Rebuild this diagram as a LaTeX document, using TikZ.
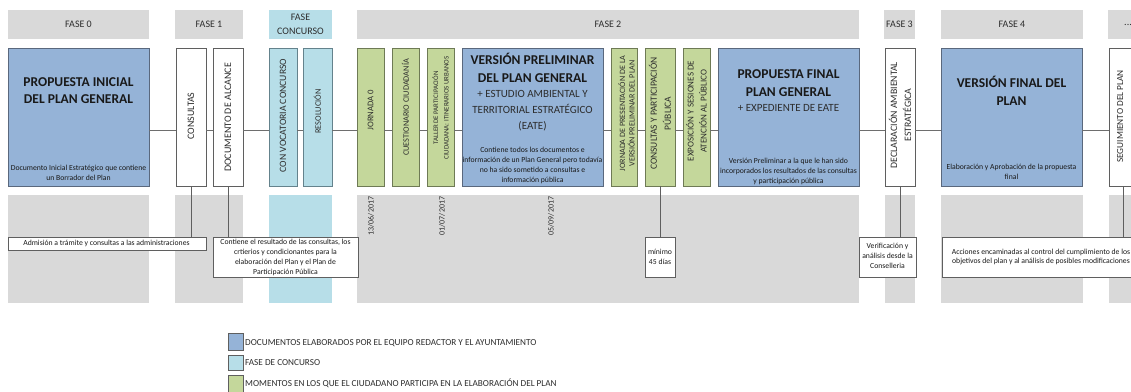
\documentclass[tikz,border=0pt]{standalone}
\usepackage{fontspec}
\setmainfont{Carlito}
\newcommand{\fsz}[2]{\fontsize{#1}{#2}\selectfont}
\definecolor{hgray}{RGB}{217,217,217}
\definecolor{docblue}{RGB}{149,179,215}
\definecolor{docline}{RGB}{90,104,125}
\definecolor{concblue}{RGB}{183,222,232}
\definecolor{concline}{RGB}{100,130,140}
\definecolor{citgreen}{RGB}{196,215,155}
\definecolor{citline}{RGB}{110,122,85}
\definecolor{wline}{RGB}{95,95,95}
\definecolor{connc}{RGB}{110,110,110}
\definecolor{txt}{RGB}{25,25,25}
\definecolor{subtxt}{RGB}{45,45,45}
\newcommand{\bx}[6]{\node[#1, minimum width={#4-#2}, minimum height={#5-#3}] (#6) at (#2,#3) {};}
\begin{document}
\begin{tikzpicture}[x=1pt,y=-1pt,
  rect/.style={inner sep=0pt, outer sep=0pt, anchor=north west},
  hdr/.style={rect, fill=hgray, text=subtxt, font=\fsz{10}{14}, align=center},
  col/.style={rect, fill=hgray},
  ccol/.style={rect, fill=concblue},
  docbox/.style={rect, fill=docblue, draw=docline, line width=0.8pt},
  wbox/.style={rect, fill=white, draw=wline, line width=0.8pt},
  gbox/.style={rect, fill=citgreen, draw=citline, line width=0.8pt},
  cbox/.style={rect, fill=concblue, draw=concline, line width=0.8pt},
  note/.style={rect, fill=white, draw=wline, line width=0.8pt},
  conn/.style={draw=connc, line width=0.8pt},
  vconn/.style={draw=wline, line width=0.8pt},
  ttl/.style={inner sep=0pt, align=center, text=txt, font=\bfseries\fsz{13.5}{17.5}},
  sub/.style={inner sep=0pt, align=center, text=subtxt, font=\fsz{11}{16}},
  small/.style={inner sep=0pt, align=center, text=txt, font=\fsz{7.7}{9.8}},
  vlab/.style={inner sep=0pt, align=center, text=subtxt, rotate=90},
  date/.style={inner sep=0pt, text=subtxt, rotate=90, font=\fsz{8}{9}},
  leg/.style={rect, draw=wline, line width=0.6pt},
  legtxt/.style={inner sep=0pt, anchor=west, text=subtxt, font=\fsz{9.2}{10}}
]
\useasboundingbox (0,0) rectangle (1131,391);
\fill[white] (0,0) rectangle (1131,391);

% header row
\node[hdr, minimum width=141, minimum height=29] (h0) at (8,10) {FASE 0};
\node[hdr, minimum width=68, minimum height=29] (h1) at (175,10) {FASE 1};
\node[hdr, fill=concblue, minimum width=63, minimum height=29] (hc) at (269,10) {FASE\\CONCURSO};
\node[hdr, minimum width=502, minimum height=29] (h2) at (357,10) {FASE 2};
\node[hdr, minimum width=31, minimum height=29] (h3) at (884,10) {FASE 3};
\node[hdr, minimum width=142, minimum height=29] (h4) at (941,10) {FASE 4};
\node[hdr, minimum width=40, minimum height=29, text width=18pt] (h5) at (1108,10) {...};

% bottom columns
\bx{col}{8}{195}{149}{303}{c0}
\bx{col}{175}{195}{243}{303}{c1}
\bx{ccol}{269}{195}{332}{303}{cc}
\bx{col}{357}{195}{859}{303}{c2}
\bx{col}{885}{195}{915}{303}{c3}
\bx{col}{941}{195}{1083}{303}{c4}
\bx{col}{1109}{195}{1145}{303}{c5}

% main boxes and horizontal connectors
\coordinate (lineref) at (0,130);
\bx{docbox}{8}{48}{149}{186}{p0}
\bx{wbox}{176}{48}{206}{186}{cons}
\bx{wbox}{213}{48}{243}{186}{doca}
\bx{cbox}{269}{48}{297}{186}{conv}
\bx{cbox}{303}{48}{332}{186}{reso}
\bx{gbox}{357}{48}{384}{186}{jor0}
\bx{gbox}{392}{48}{419}{186}{cues}
\bx{gbox}{427}{48}{454}{186}{tall}
\bx{docbox}{462}{48}{603}{186}{vprel}
\bx{gbox}{611}{48}{637}{186}{jpres}
\bx{gbox}{645}{48}{675}{186}{cpart}
\bx{gbox}{683}{48}{710}{186}{expo}
\bx{docbox}{718}{48}{859}{186}{pfin}
\bx{wbox}{885}{48}{915}{186}{decl}
\bx{docbox}{941}{48}{1082}{186}{vfin}
\bx{wbox}{1109}{48}{1138}{186}{segu}
\foreach \a/\b in {p0/cons, cons/doca, doca/conv, conv/reso, reso/jor0, jor0/cues, cues/tall, tall/vprel, vprel/jpres, jpres/cpart, cpart/expo, expo/pfin, pfin/decl, decl/vfin, vfin/segu}
  \draw[conn] (\a.east |- lineref) -- (\b.west |- lineref);

% notes
\bx{note}{8}{237}{206}{250}{n1}
\bx{note}{213}{237}{358}{277}{n2}
\bx{note}{645}{237}{675}{277}{n3}
\bx{note}{859}{237}{916}{277}{n4}
\bx{note}{942}{237}{1145}{277}{n5}
\draw[vconn] (cons.south) -- (cons.south |- n1.north);
\draw[vconn] (doca.south) -- (doca.south |- n2.north);
\draw[vconn] (cpart.south) -- (cpart.south |- n3.north);
\draw[vconn] (decl.south) -- (decl.south |- n4.north);
\draw[vconn] (segu.south) -- (segu.south |- n5.north);

\node[small] (n1t) at (106.5,243.5) {Admisión a trámite y consultas a las administraciones};
\node[small] (n2t) at (285.5,257.5) {Contiene el resultado de las consultas, los\\crtierios y condicionantes para la\\elaboración del Plan y el Plan de\\Participación Pública};
\node[small] (n3t) at (660,257) {mínimo\\45 días};
\node[small] (n4t) at (887.5,256) {Verificación y\\análisis desde la\\Conselleria};
\node[small] (n5t) at (1041,257) {Acciones encaminadas al control del cumplimiento de los\\objetivos del plan y al análisis de posibles modificaciones};

% blue box texts
\node[ttl] (p0a) at (78.5,90.5) {PROPUESTA INICIAL\\DEL PLAN GENERAL};
\node[small] (p0b) at (78.5,172.5) {Documento Inicial Estratégico que contiene\\un Borrador del Plan};
\node[ttl] (vpa) at (532.5,68) {VERSIÓN PRELIMINAR\\DEL PLAN GENERAL};
\node[sub] (vpb) at (532.5,111) {+ ESTUDIO AMBIENTAL Y\\TERRITORIAL ESTRATÉGICO\\(EATE)};
\node[small] (vpc) at (532.5,165.5) {Contiene todos los documentos e\\información de un Plan General pero todavía\\no ha sido sometido a consultas e\\información pública};
\node[ttl] (pfa) at (788.5,83) {PROPUESTA FINAL\\PLAN GENERAL};
\node[sub] (pfb) at (788.5,108) {+ EXPEDIENTE DE EATE};
\node[small] (pfc) at (788.5,171.5) {Versión Preliminar a la que le han sido\\incorporados los resultados de las consultas\\y participación pública};
\node[ttl] (vfa) at (1011.5,91) {VERSIÓN FINAL DEL\\PLAN};
\node[small] (vfb) at (1011.5,172) {Elaboración y Aprobación de la propuesta\\final};

% vertical labels
\node[vlab, font=\fsz{9.9}{12}] (tcons) at (191,116) {CONSULTAS};
\node[vlab, font=\fsz{10}{12}] (tdoca) at (228,117.5) {DOCUMENTO DE ALCANCE};
\node[vlab, font=\fsz{9.7}{12}] (tconv) at (283,115.5) {CON VOCATORIA CONCURSO};
\node[vlab, font=\fsz{8.4}{10}] (treso) at (317.5,111.5) {RESOLUCIÓN};
\node[vlab, font=\fsz{8.7}{10}] (tjor0) at (370.5,110) {JORNADA 0};
\node[vlab, font=\fsz{8.3}{10}] (tcues) at (405.5,107.5) {CUESTIONARIO CIUDADANÍA};
\node[vlab, font=\fsz{6.9}{10.7}] (ttall) at (440.5,108) {TALLER DE PARTICIPACIÓN\\CIUDADANA: ITINERARIOS URBANOS};
\node[vlab, font=\fsz{8.1}{9.3}] (tjpres) at (626.5,113.5) {JORNADA DE PRESENTACIÓN DE LA\\VERSIÓN PRELIMINAR DEL PLAN};
\node[vlab, font=\fsz{9.5}{14}] (tcpart) at (660,113.5) {CONSULTAS Y PARTICIPACIÓN\\PÚBLICA};
\node[vlab, font=\fsz{9}{13}] (texpo) at (696.5,111) {EXPOSICIÓN Y SESIONES DE\\ATENCIÓN AL PÚBLICO};
\node[vlab, font=\fsz{9.8}{14}] (tdecl) at (900,115) {DECLARACIÓN AMBIENTAL\\ESTRATÉGICA};
\node[vlab, font=\fsz{9.3}{12}] (tsegu) at (1120,116.5) {SEGUIMIENTO DEL PLAN};

% dates
\node[date] (d1) at (371,216) {13/06/2017};
\node[date] (d2) at (442,216) {01/07/2017};
\node[date] (d3) at (551,216) {05/09/2017};

% legend
\bx{leg, fill=docblue}{228}{333}{243}{350}{l1}
\bx{leg, fill=concblue}{228}{355}{243}{370}{l2}
\bx{leg, fill=citgreen}{228}{375}{243}{395}{l3}
\node[legtxt] (l1t) at (245,343) {DOCUMENTOS ELABORADOS POR EL EQUIPO REDACTOR Y EL AYUNTAMIENTO};
\node[legtxt] (l2t) at (245,362.5) {FASE DE CONCURSO};
\node[legtxt] (l3t) at (245,383) {MOMENTOS EN LOS QUE EL CIUDADANO PARTICIPA EN LA ELABORACIÓN DEL PLAN};
\end{tikzpicture}
\end{document}
